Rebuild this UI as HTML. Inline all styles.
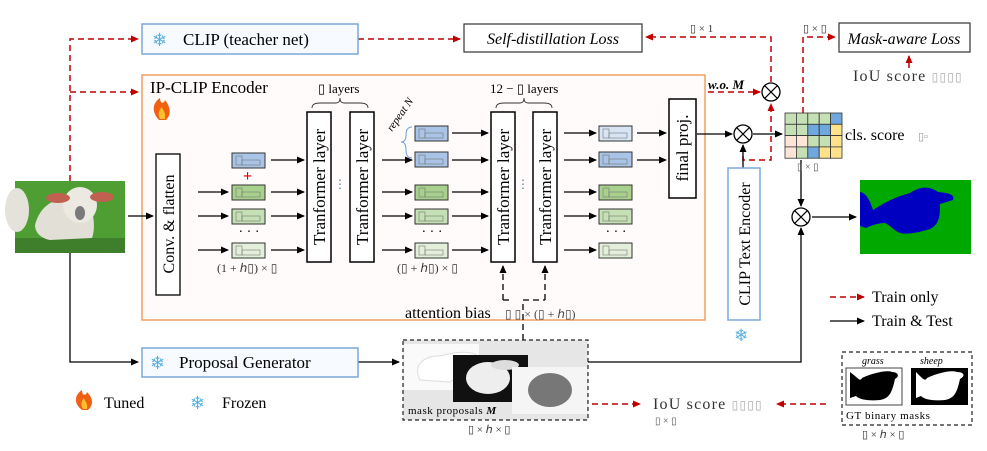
<!DOCTYPE html>
<html><head><meta charset="utf-8"><style>
html,body{margin:0;padding:0;background:#fff;}
svg{display:block;font-family:"Liberation Serif",serif;}
</style></head><body>
<svg width="987" height="451" viewBox="0 0 987 451" xmlns="http://www.w3.org/2000/svg">
<defs>
<marker id="ab" markerWidth="8" markerHeight="8" refX="7" refY="4" orient="auto" markerUnits="userSpaceOnUse"><path d="M0,0.5 L8,4 L0,7.5Z" fill="#000"/></marker>
<marker id="ar" markerWidth="8" markerHeight="8" refX="7" refY="4" orient="auto" markerUnits="userSpaceOnUse"><path d="M0,0.5 L8,4 L0,7.5Z" fill="#c00000"/></marker>
<g id="tok"><rect x="0" y="0" width="33" height="15" stroke="#333" stroke-width="1"/><rect x="4" y="3" width="6" height="9" fill="none" stroke="#777" stroke-width="0.6"/><rect x="10" y="7" width="18" height="5" fill="none" stroke="#777" stroke-width="0.6"/></g>
</defs>

<g stroke="#c00000" stroke-width="1.5" stroke-dasharray="6,4" fill="none">
<path d="M70,181 L70,39 L138,39" marker-end="url(#ar)"/>
<path d="M70,92 L138,92" marker-end="url(#ar)"/>
<path d="M358,39 L460,39" marker-end="url(#ar)"/>
<path d="M771,82 L771,37 L646,37" marker-end="url(#ar)"/>
<path d="M708,92 L760,92" marker-end="url(#ar)"/>
<path d="M743,146 L743,160 L771,160 L771,104" marker-end="url(#ar)"/>
<path d="M803,113 L803,37 L835,37" marker-end="url(#ar)"/>
<path d="M909,68 L909,56" marker-end="url(#ar)"/>
<path d="M592,404 L640,404" marker-end="url(#ar)"/>
<path d="M826,404 L777,404" marker-end="url(#ar)"/>
<path d="M830,297 L864,297" marker-end="url(#ar)"/>
</g>

<rect x="142" y="24" width="216" height="30" fill="#f7fafe" stroke="#7aa8d8" stroke-width="1.5"/>
<text x="152" y="46" font-size="18" fill="#5ab0e0">❄</text>
<text x="183" y="45" font-size="17">CLIP (teacher net)</text>
<rect x="464" y="24" width="178" height="28" fill="#fff" stroke="#333" stroke-width="1.2"/>
<text x="553" y="44" font-size="16" font-style="italic" text-anchor="middle">Self-distillation Loss</text>
<text x="690" y="32" font-size="11" fill="#333">▯ × 1</text>
<rect x="839" y="23" width="131" height="29" fill="#fff" stroke="#333" stroke-width="1.2"/>
<text x="904" y="44" font-size="16" font-style="italic" text-anchor="middle">Mask-aware Loss</text>
<text x="803" y="32" font-size="11" fill="#333">▯ × ▯</text>
<text x="853" y="81" font-size="16" fill="#333" letter-spacing="1.2">IoU score <tspan font-size="12" fill="#aaa">▯▯▯▯</tspan></text>

<rect x="142" y="75" width="563" height="245" fill="#fffbfa" stroke="#f0a060" stroke-width="1.5"/>
<text x="150" y="93" font-size="17">IP-CLIP Encoder</text>
<path d="M159,120 C150,110 154,102 160,98 C160,104 164,104 165,100 C170,106 172,114 166,120 Z" fill="#f06010"/>
<path d="M160,119 C157,113 160,109 162,107 C163,111 166,112 165,119 Z" fill="#ffc030"/>

<!-- photo -->
<rect x="15" y="181" width="110" height="72" fill="#4f9e34"/>
<rect x="15" y="238" width="110" height="15" fill="#3f7e2a"/>
<ellipse cx="17" cy="210" rx="12" ry="22" fill="#e4e2da"/>
<path d="M35,225 C40,205 55,198 70,198 L88,200 C95,215 95,230 92,238 L50,240 C40,238 35,232 35,225 Z" fill="#e2e0d6"/>
<ellipse cx="80" cy="205" rx="17" ry="18" fill="#ebe9e1"/>
<ellipse cx="58" cy="198" rx="12" ry="5" fill="#c06050"/>
<ellipse cx="102" cy="197" rx="12" ry="5" fill="#c06050"/>
<ellipse cx="80" cy="213" rx="5" ry="7" fill="#7a7a7a"/>

<g stroke="#000" stroke-width="1.3" fill="none">
<path d="M128,216 L153,216" marker-end="url(#ab)"/>
<path d="M70,253 L70,362 L138,362" marker-end="url(#ab)"/>
<path d="M358,362 L399,362" marker-end="url(#ab)"/>
<path d="M588,362 L801,362 L801,228" marker-end="url(#ab)"/>
<path d="M697,134 L732,134" marker-end="url(#ab)"/>
<path d="M753,134 L782,134" marker-end="url(#ab)"/>
<path d="M743,168 L743,145" marker-end="url(#ab)"/>
<path d="M801,160 L801,206" marker-end="url(#ab)"/>
<path d="M812,217 L856,217" marker-end="url(#ab)"/>
<path d="M830,321 L864,321" marker-end="url(#ab)"/>
</g>

<rect x="156" y="154" width="24" height="141" fill="#fff" stroke="#000" stroke-width="1.3"/>
<text transform="translate(174,224) rotate(-90)" font-size="16" text-anchor="middle">Conv. &amp;  flatten</text>

<g stroke="#000" stroke-width="1.3">
<path d="M198,192 L228,192" marker-end="url(#ab)"/><path d="M198,216 L228,216" marker-end="url(#ab)"/><path d="M198,250 L228,250" marker-end="url(#ab)"/>
<path d="M271,160 L304,160" marker-end="url(#ab)"/><path d="M271,192 L304,192" marker-end="url(#ab)"/><path d="M271,216 L304,216" marker-end="url(#ab)"/><path d="M271,250 L304,250" marker-end="url(#ab)"/>
<path d="M382,160 L412,160" marker-end="url(#ab)"/><path d="M382,192 L412,192" marker-end="url(#ab)"/><path d="M382,216 L412,216" marker-end="url(#ab)"/><path d="M382,250 L412,250" marker-end="url(#ab)"/>
<path d="M452,133 L488,133" marker-end="url(#ab)"/><path d="M452,160 L488,160" marker-end="url(#ab)"/><path d="M452,192 L488,192" marker-end="url(#ab)"/><path d="M452,216 L488,216" marker-end="url(#ab)"/><path d="M452,250 L488,250" marker-end="url(#ab)"/>
<path d="M564,133 L596,133" marker-end="url(#ab)"/><path d="M564,160 L596,160" marker-end="url(#ab)"/><path d="M564,192 L596,192" marker-end="url(#ab)"/><path d="M564,216 L596,216" marker-end="url(#ab)"/><path d="M564,250 L596,250" marker-end="url(#ab)"/>
<path d="M637,133 L666,133" marker-end="url(#ab)"/><path d="M637,160 L666,160" marker-end="url(#ab)"/>
</g>
<use href="#tok" x="232" y="153" fill="#a9c4e6"/>
<use href="#tok" x="232" y="185" fill="#a9d18e"/>
<use href="#tok" x="232" y="209" fill="#c5e0b4"/>
<use href="#tok" x="232" y="243" fill="#e2efda"/>
<text x="243" y="181" font-size="16" fill="#e00000" font-weight="bold">+</text>
<text x="249" y="236" font-size="14" text-anchor="middle">· · ·</text>
<text x="217" y="272" font-size="12" fill="#333">(1 + ℎ▯) × ▯</text>

<use href="#tok" x="415" y="126" fill="#a9c4e6"/>
<use href="#tok" x="415" y="152" fill="#a9c4e6"/>
<use href="#tok" x="415" y="185" fill="#a9d18e"/>
<use href="#tok" x="415" y="209" fill="#c5e0b4"/>
<use href="#tok" x="415" y="243" fill="#e2efda"/>
<text x="432" y="236" font-size="14" text-anchor="middle">· · ·</text>
<text x="397" y="272" font-size="12" fill="#333">(▯ + ℎ▯) × ▯</text>
<path d="M412,127 Q406,127 406,135 Q406,142 401,142 Q406,142 406,150 Q406,158 412,158" fill="none" stroke="#6a9fd8" stroke-width="1"/>
<text transform="translate(392,132) rotate(-55)" font-size="11" font-style="italic">repeat N</text>

<use href="#tok" x="599" y="126" fill="#d6e4f4"/>
<use href="#tok" x="599" y="152" fill="#a9c4e6"/>
<use href="#tok" x="599" y="185" fill="#a9d18e"/>
<use href="#tok" x="599" y="209" fill="#c5e0b4"/>
<use href="#tok" x="599" y="243" fill="#e2efda"/>
<text x="616" y="236" font-size="14" text-anchor="middle">· · ·</text>

<g fill="#fff" stroke="#000" stroke-width="1.5">
<rect x="307" y="112" width="24" height="150"/><rect x="350" y="112" width="24" height="150"/>
<rect x="491" y="112" width="24" height="150"/><rect x="533" y="112" width="24" height="150"/>
<rect x="669" y="99" width="27" height="99"/>
</g>
<g font-size="17" text-anchor="middle">
<text transform="translate(325,187) rotate(-90)">Tranformer layer</text>
<text transform="translate(368,187) rotate(-90)">Tranformer layer</text>
<text transform="translate(509,187) rotate(-90)">Tranformer layer</text>
<text transform="translate(551,187) rotate(-90)">Tranformer layer</text>
<text transform="translate(688,148) rotate(-90)">final proj.</text>
</g>
<text x="340" y="188" font-size="12" fill="#4a7ab0" text-anchor="middle">⋮</text>
<text x="523" y="188" font-size="12" fill="#4a7ab0" text-anchor="middle">⋮</text>
<path d="M312,108 Q312,103 320,103 L336,103 Q340,103 340,98 Q340,103 344,103 L360,103 Q368,103 368,108" fill="none" stroke="#333" stroke-width="0.9"/>
<path d="M496,108 Q496,103 504,103 L520,103 Q524,103 524,98 Q524,103 528,103 L544,103 Q552,103 552,108" fill="none" stroke="#333" stroke-width="0.9"/>
<text x="318" y="93" font-size="13">▯ layers</text>
<text x="490" y="93" font-size="13">12 − ▯ layers</text>

<g stroke="#000" stroke-width="1.3" stroke-dasharray="6,4" fill="none">
<path d="M503,300 L503,266" marker-end="url(#ab)"/>
<path d="M545,300 L545,266" marker-end="url(#ab)"/>
<path d="M503,300 L513,300"/><path d="M523,340 L523,300 L545,300"/>
</g>
<text x="405" y="318" font-size="16">attention bias</text>
<text x="505" y="318" font-size="12" fill="#444">▯   ▯ × (▯ + ℎ▯)</text>

<g fill="#fff" stroke="#000" stroke-width="1.3">
<circle cx="771" cy="92" r="9"/><circle cx="743" cy="134" r="9"/><circle cx="801" cy="217" r="9"/>
</g>
<g stroke="#000" stroke-width="1.2">
<path d="M764.6,85.6 L777.4,98.4 M777.4,85.6 L764.6,98.4"/>
<path d="M736.6,127.6 L749.4,140.4 M749.4,127.6 L736.6,140.4"/>
<path d="M794.6,210.6 L807.4,223.4 M807.4,210.6 L794.6,223.4"/>
</g>
<text x="708" y="89" font-size="13" font-style="italic" font-weight="bold">w.o. M</text>

<g stroke="#333" stroke-width="0.8">
<rect x="785" y="113" width="11.4" height="11.3" fill="#c5e0b4"/><rect x="796.4" y="113" width="11.4" height="11.3" fill="#c5e0b4"/><rect x="807.8" y="113" width="11.4" height="11.3" fill="#c5e0b4"/><rect x="819.2" y="113" width="11.4" height="11.3" fill="#c5e0b4"/><rect x="830.6" y="113" width="11.4" height="11.3" fill="#6fa8dc"/>
<rect x="785" y="124.3" width="11.4" height="11.3" fill="#c5e0b4"/><rect x="796.4" y="124.3" width="11.4" height="11.3" fill="#c5e0b4"/><rect x="807.8" y="124.3" width="11.4" height="11.3" fill="#6fa8dc"/><rect x="819.2" y="124.3" width="11.4" height="11.3" fill="#6fa8dc"/><rect x="830.6" y="124.3" width="11.4" height="11.3" fill="#ffe28a"/>
<rect x="785" y="135.6" width="11.4" height="11.3" fill="#fce4d6"/><rect x="796.4" y="135.6" width="11.4" height="11.3" fill="#fce4d6"/><rect x="807.8" y="135.6" width="11.4" height="11.3" fill="#c5e0b4"/><rect x="819.2" y="135.6" width="11.4" height="11.3" fill="#c5e0b4"/><rect x="830.6" y="135.6" width="11.4" height="11.3" fill="#ffe28a"/>
<rect x="785" y="146.9" width="11.4" height="11.3" fill="#fce4d6"/><rect x="796.4" y="146.9" width="11.4" height="11.3" fill="#c5e0b4"/><rect x="807.8" y="146.9" width="11.4" height="11.3" fill="#6fa8dc"/><rect x="819.2" y="146.9" width="11.4" height="11.3" fill="#ffe28a"/><rect x="830.6" y="146.9" width="11.4" height="11.3" fill="#ffe28a"/>
</g>
<text x="845" y="140" font-size="16">cls. score</text>
<text x="918" y="140" font-size="11" fill="#999">▯▫</text>
<text x="797" y="170" font-size="10" fill="#555">▯ × ▯</text>

<rect x="728" y="168" width="32" height="152" fill="#fff" stroke="#7aa8d8" stroke-width="1.5"/>
<text transform="translate(750,244) rotate(-90)" font-size="16" text-anchor="middle">CLIP Text Encoder</text>
<text x="734" y="341" font-size="17" fill="#5ab0e0">❄</text>

<rect x="860" y="180" width="111" height="74" fill="#00a800"/>
<path d="M860,192 C866,193 870,200 873,210 C885,202 898,196 910,193 C920,186 930,186 938,192 C948,193 955,194 953,200 L940,204 C940,215 940,224 930,229 C920,232 908,235 900,233 C893,230 890,225 885,223 C878,223 870,226 866,228 L860,226 Z" fill="#0000c0"/>

<text x="872" y="302" font-size="16">Train only</text>
<text x="872" y="326" font-size="16">Train &amp; Test</text>

<rect x="142" y="348" width="216" height="29" fill="#f7fafe" stroke="#7aa8d8" stroke-width="1.5"/>
<text x="150" y="369" font-size="18" fill="#5ab0e0">❄</text>
<text x="179" y="368" font-size="17">Proposal Generator</text>

<rect x="403" y="340" width="185" height="80" fill="#e6e6e6" stroke="#222" stroke-width="1.2" stroke-dasharray="4,3"/>
<rect x="404" y="344" width="75" height="46" fill="#fafafa"/>
<path d="M420,380 C412,365 425,355 440,356 C455,352 470,350 478,356 L470,368 C465,375 455,378 450,382 Z" fill="#fff" stroke="#ddd"/>
<rect x="453" y="355" width="75" height="47" fill="#111"/>
<ellipse cx="488" cy="378" rx="22" ry="16" fill="#eee"/>
<ellipse cx="505" cy="365" rx="14" ry="5" fill="#ddd"/>
<rect x="512" y="367" width="75" height="47" fill="#f5f5f5"/>
<ellipse cx="550" cy="390" rx="22" ry="17" fill="#777"/>
<text x="408" y="414" font-size="11" letter-spacing="0.5">mask proposals <tspan font-style="italic" font-weight="bold">M</tspan></text>
<text x="468" y="433" font-size="11" fill="#333">▯ × ℎ × ▯</text>

<text x="653" y="409" font-size="16" fill="#333" letter-spacing="1.2">IoU score <tspan font-size="12" fill="#aaa">▯▯▯▯</tspan></text>
<text x="655" y="424" font-size="10" fill="#555">▯ × ▯</text>

<rect x="842" y="352" width="130" height="73" fill="#fff" stroke="#222" stroke-width="1.2" stroke-dasharray="4,3"/>
<text x="862" y="364" font-size="10" font-style="italic">grass</text>
<text x="920" y="364" font-size="10" font-style="italic">sheep</text>
<rect x="846" y="368" width="56" height="37" fill="#fff" stroke="#444"/>
<path d="M850,372 C858,378 860,382 862,378 C875,372 888,370 892,372 C898,372 900,376 895,379 C892,392 890,398 880,400 C870,401 860,400 856,396 L850,398 Z" fill="#000"/>
<rect x="911" y="368" width="57" height="37" fill="#000"/>
<path d="M916,372 C922,378 925,382 927,378 C940,372 952,370 957,372 C964,372 966,376 960,379 C957,392 955,398 945,400 C935,401 925,400 921,396 L916,398 Z" fill="#fff"/>
<text x="846" y="419" font-size="11" letter-spacing="0.6">GT binary masks</text>
<text x="862" y="438" font-size="11" fill="#333">▯ × ℎ × ▯</text>

<path d="M82,410 C72,402 76,394 82,390 C82,396 86,396 87,392 C93,398 94,405 88,410 Z" fill="#f06010"/>
<path d="M83,409 C80,404 82,400 84,398 C85,402 88,403 87,409 Z" fill="#ffc030"/>
<text x="104" y="408" font-size="16">Tuned</text>
<text x="190" y="409" font-size="18" fill="#5ab0e0">❄</text>
<text x="222" y="408" font-size="16">Frozen</text>
</svg>
</body></html>
